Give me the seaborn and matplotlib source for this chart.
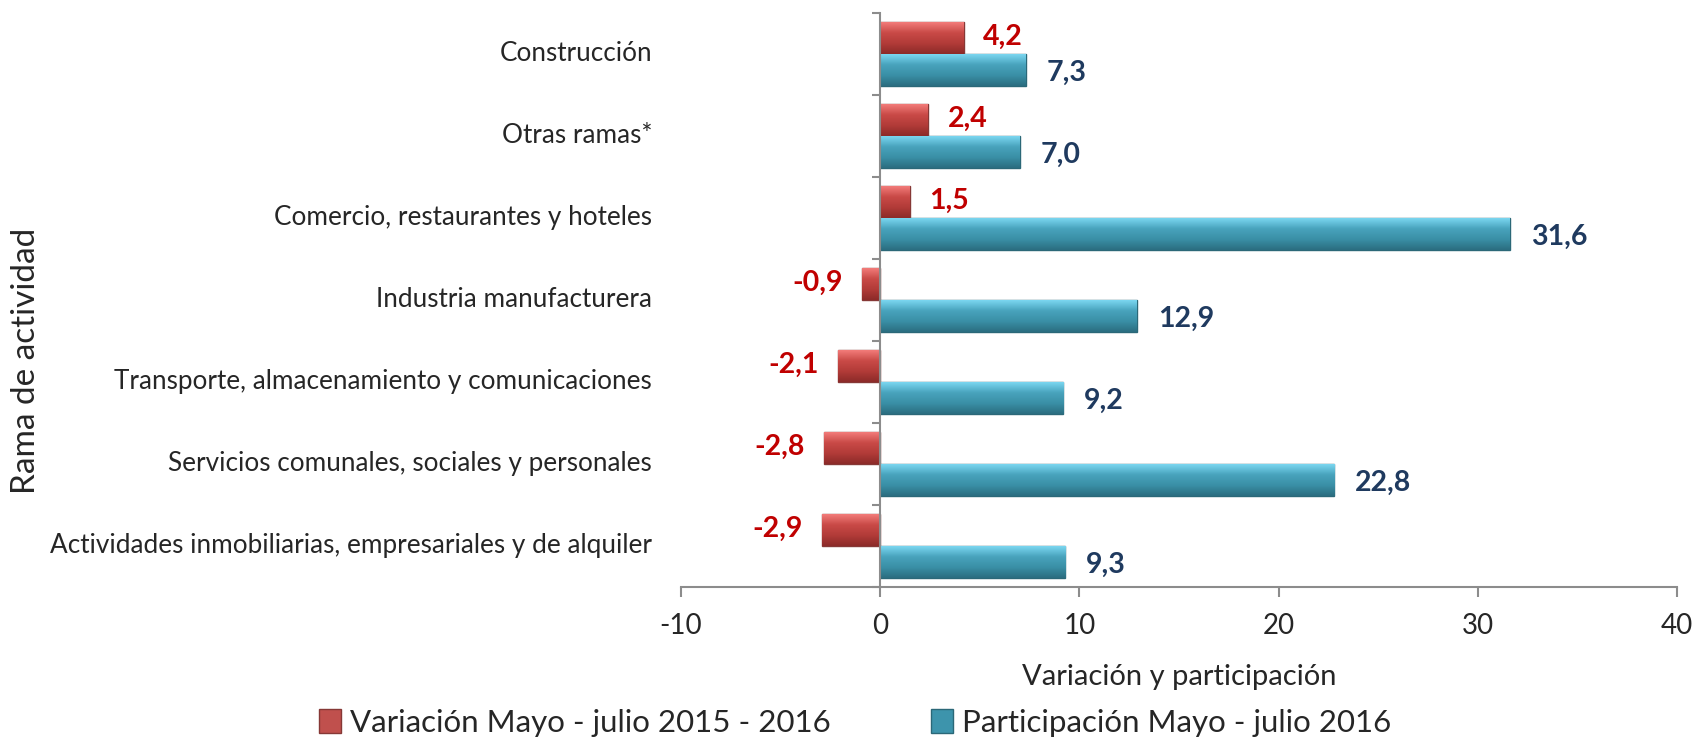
# empleo por rama de actividad - variacion y participacion
import numpy as np
import pandas as pd
import matplotlib.pyplot as plt
import matplotlib.transforms as mtransforms
from matplotlib.colors import LinearSegmentedColormap
import seaborn as sns

# data
ramas = ['Construcción', 'Otras ramas*', 'Comercio, restaurantes y hoteles',
         'Industria manufacturera', 'Transporte, almacenamiento y comunicaciones',
         'Servicios comunales, sociales y personales',
         'Actividades inmobiliarias, empresariales y de alquiler']
variacion = [4.2, 2.4, 1.5, -0.9, -2.1, -2.8, -2.9]
participacion = [7.3, 7.0, 31.6, 12.9, 9.2, 22.8, 9.3]

serie_var = 'Variación Mayo - julio 2015 - 2016'
serie_par = 'Participación Mayo - julio 2016'

df = pd.DataFrame({
    'rama': ramas * 2,
    'valor': variacion + participacion,
    'serie': [serie_var] * len(ramas) + [serie_par] * len(ramas),
})

sns.set_style('white')
plt.rcParams['font.family'] = ['Lato', 'DejaVu Sans']
plt.rcParams['axes.unicode_minus'] = False

red = '#C0504D'
blue = '#3D94AC'
red_txt = '#C00000'
blue_txt = '#1F3A5F'
gray = '#8c8c8c'

# gradients for the bevel look (top light -> bottom dark)
grad_cmaps = {
    red: LinearSegmentedColormap.from_list('r', ['#F27B79', '#C94A47', '#B23B38', '#8C2B29']),
    blue: LinearSegmentedColormap.from_list('b', ['#7AD6F0', '#48A3BC', '#3A8FA6', '#2B6E80']),
}

fig = plt.figure(figsize=(17, 7.42), dpi=100)
ax = fig.add_axes([0.4006, 0.2089, 0.5859, 0.7736])

sns.barplot(data=df, y='rama', x='valor', hue='serie', orient='h',
            palette=[red, blue], saturation=1, width=0.78, ax=ax, legend=True)

grad = np.linspace(0, 1, 64).reshape(-1, 1)
for bar in ax.patches:
    fc = bar.get_facecolor()
    key = red if abs(fc[0] - 0.75) < 0.05 else blue
    bar.set_edgecolor(tuple(c * 0.7 for c in fc[:3]))
    bar.set_linewidth(1.0)
    x0, y0, w, h = bar.get_x(), bar.get_y(), bar.get_width(), bar.get_height()
    if w == 0:
        continue
    im = ax.imshow(grad, extent=[x0, x0 + w, y0 + h, y0], aspect='auto',
                   cmap=grad_cmaps[key], zorder=bar.get_zorder() + 0.1)
    im.set_clip_path(bar)

ax.set_xlim(-10, 40)
ax.set_xticks(np.arange(-10, 41, 10))
ax.set_ylim(len(ramas) - 0.5, -0.5)
ax.set_aspect('auto')

for s in ['top', 'right']:
    ax.spines[s].set_visible(False)
ax.spines['left'].set_position(('data', 0))
ax.spines['left'].set_color(gray)
ax.spines['left'].set_linewidth(1.5)
ax.spines['left'].set_zorder(5)
ax.spines['bottom'].set_color(gray)
ax.spines['bottom'].set_linewidth(1.5)

ax.tick_params(axis='x', bottom=True, length=7, width=1.5, color=gray, labelsize=20, pad=12)
ax.tick_params(axis='y', which='major', length=0, labelleft=False)
ax.set_yticks(np.arange(-0.5, len(ramas), 1), minor=True)
ax.tick_params(axis='y', which='minor', left=True, length=6, width=1.5, color=gray)

# category labels at the left edge of the plot
trans = mtransforms.blended_transform_factory(ax.transAxes, ax.transData)
for i, r in enumerate(ramas):
    ax.text(-0.029, i, r, transform=trans, ha='right', va='center', fontsize=18.8)

ax.set_xlabel('Variación y participación', fontsize=21)
ax.xaxis.set_label_coords(0.5, -0.157)
ax.xaxis.label.set_va('center')
ax.set_ylabel('')
fig.text(0.0153, 0.513, 'Rama de actividad', rotation=90, ha='center', va='center', fontsize=24)

# value labels
for i, v in enumerate(variacion):
    off = 14 if v >= 0 else -14
    ax.annotate(f'{v:.1f}'.replace('.', ','), (v, i - 0.195), xytext=(off, 1),
                textcoords='offset points', ha='left' if v >= 0 else 'right',
                va='center', color=red_txt, fontsize=20.5, fontweight='bold')
for i, v in enumerate(participacion):
    ax.annotate(f'{v:.1f}'.replace('.', ','), (v, i + 0.195), xytext=(15, -2),
                textcoords='offset points', ha='left', va='center',
                color=blue_txt, fontsize=20.5, fontweight='bold')

handles, labels = ax.get_legend_handles_labels()
ax.get_legend().remove()
fig.legend(handles, labels, loc='center', bbox_to_anchor=(0.503, 0.026), ncol=2,
           frameon=False, fontsize=22.5, handlelength=0.7, handleheight=0.85,
           handletextpad=0.3, columnspacing=3.2, borderpad=0)

fig.savefig('out.png', dpi=100)
